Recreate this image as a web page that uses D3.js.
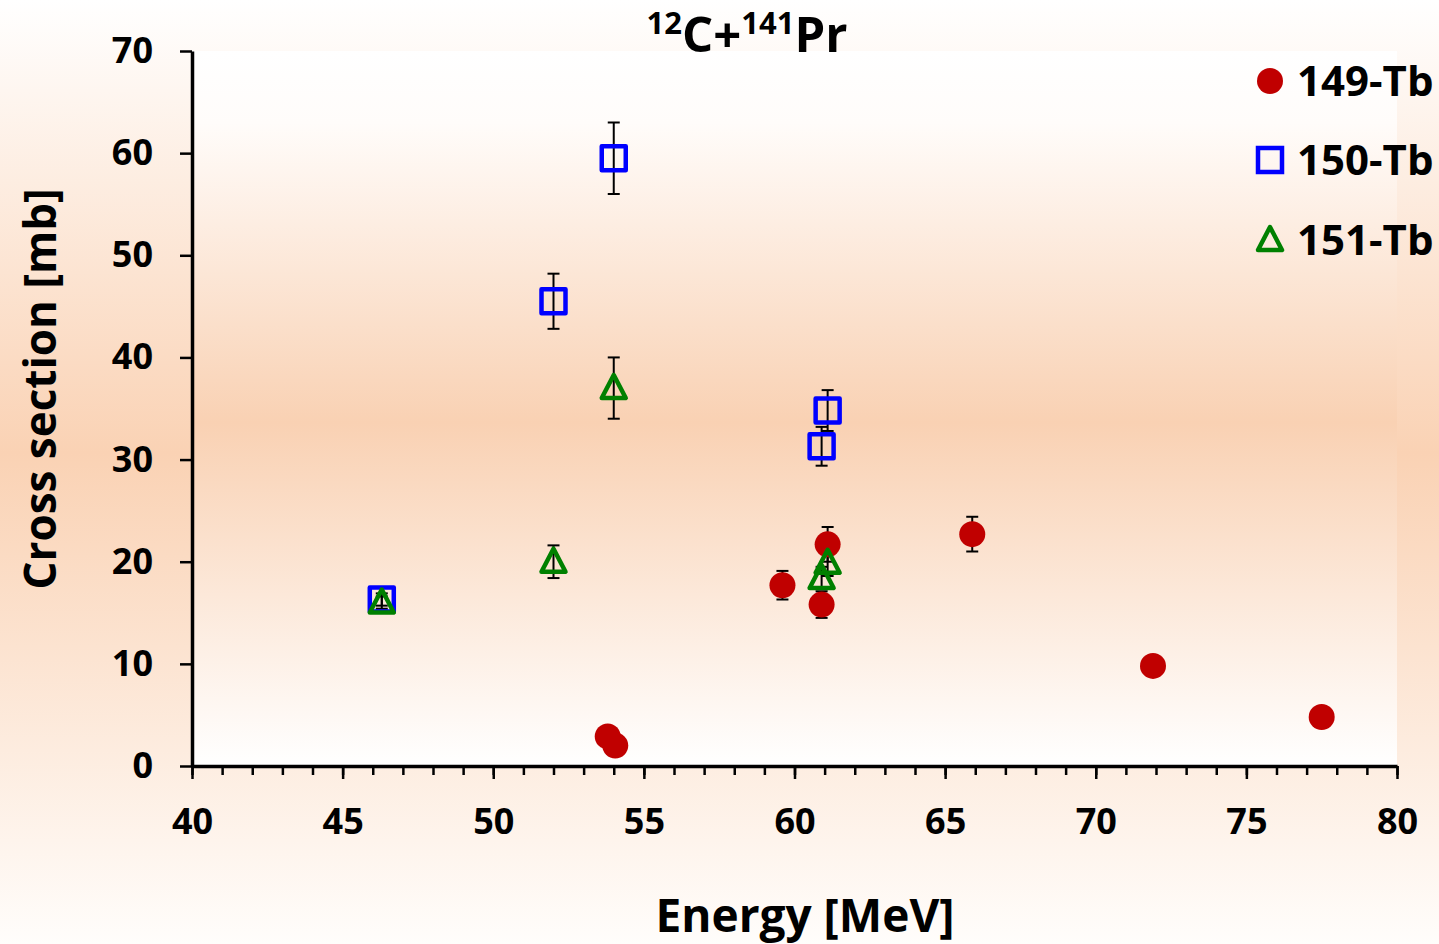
<!DOCTYPE html>
<html>
<head>
<meta charset="utf-8">
<script src="https://cdn.jsdelivr.net/npm/d3@7"></script>
<style>
	body { margin: 0; background: #fff; }
	text { font-family: "Open Sans", "Liberation Sans", sans-serif; font-weight: 700; fill: #000; }
</style>
</head>
<body>
<div id="chart"></div>
<script>
// data: energy [MeV], cross section [mb], error [mb]
var tb149 = [
	{e: 53.8, v: 2.9, err: 0},
	{e: 54.05, v: 2.0, err: 0},
	{e: 59.6, v: 17.7, err: 1.4},
	{e: 60.9, v: 15.8, err: 1.3},
	{e: 61.1, v: 21.7, err: 1.7},
	{e: 65.9, v: 22.7, err: 1.7},
	{e: 71.9, v: 9.8, err: 0},
	{e: 77.5, v: 4.8, err: 0}
];
var tb150 = [
	{e: 46.3, v: 16.3, err: 0.6},
	{e: 52.0, v: 45.5, err: 2.7},
	{e: 54.0, v: 59.5, err: 3.5},
	{e: 60.9, v: 31.3, err: 1.9},
	{e: 61.1, v: 34.8, err: 2.0}
];
var tb151 = [
	{e: 46.3, v: 16.0, err: 0.6},
	{e: 52.0, v: 20.0, err: 1.6},
	{e: 54.0, v: 37.0, err: 3.0},
	{e: 60.9, v: 18.4, err: 1.1},
	{e: 61.1, v: 19.9, err: 1.3}
];
var seriesNames = ["149-Tb", "150-Tb", "151-Tb"];
var xTicks = [40, 45, 50, 55, 60, 65, 70, 75, 80];
var yTicks = [0, 10, 20, 30, 40, 50, 60, 70];

var layout = {
	w: 1439,
	h: 944,
	left: 192,
	right: 1397,
	top: 51,
	bottom: 766
}

var svg = d3.select("#chart").append("svg")
			.attr("width", layout.w)
			.attr("height", layout.h);

var defs = svg.append("defs");

var gradOuter = defs.append("linearGradient")
			.attr("id", "gradOuter")
			.attr("x1", 0).attr("y1", 0).attr("x2", 0).attr("y2", 1);
gradOuter.append("stop").attr("offset", "0").attr("stop-color", "#ffffff");
gradOuter.append("stop").attr("offset", "0.48").attr("stop-color", "#fad2b4");
gradOuter.append("stop").attr("offset", "1").attr("stop-color", "#fffdfb");

var gradPlot = defs.append("linearGradient")
			.attr("id", "gradPlot")
			.attr("x1", 0).attr("y1", 0).attr("x2", 0).attr("y2", 1);
gradPlot.append("stop").attr("offset", "0").attr("stop-color", "#ffffff");
gradPlot.append("stop").attr("offset", "0.1").attr("stop-color", "#fffcfa");
gradPlot.append("stop").attr("offset", "0.52").attr("stop-color", "#f9d1b3");
gradPlot.append("stop").attr("offset", "1").attr("stop-color", "#ffffff");

svg.append("rect")
	.attr("width", layout.w).attr("height", layout.h)
	.style("fill", "url(#gradOuter)");

svg.append("rect")
	.attr("x", layout.left).attr("y", layout.top)
	.attr("width", layout.right - layout.left)
	.attr("height", layout.bottom - layout.top)
	.style("fill", "url(#gradPlot)");

var xScale = d3.scaleLinear().domain([40, 80]).range([layout.left, layout.right]),
	yScale = d3.scaleLinear().domain([0, 70]).range([layout.bottom, layout.top]);

// x axis: minor ticks every 1 MeV, major every 5
var xMinor = svg.append("g")
				.attr("transform", "translate(0," + layout.bottom + ")")
				.call(d3.axisBottom(xScale).ticks(40).tickSize(9).tickFormat(""));
xMinor.select(".domain").remove();
xMinor.selectAll("line").style("stroke", "#000").style("stroke-width", 2.5);

var xAxis = svg.append("g")
				.attr("transform", "translate(0," + layout.bottom + ")")
				.call(d3.axisBottom(xScale).tickValues(xTicks).tickSize(13).tickSizeOuter(0).tickPadding(29));
xAxis.select(".domain").style("stroke", "#000").style("stroke-width", 3.5);
xAxis.selectAll("line").style("stroke", "#000").style("stroke-width", 2.5);
xAxis.selectAll("text")
		.style("font-family", "'Open Sans', sans-serif")
		.style("font-weight", 700)
		.style("font-size", "36px")
		.attr("dy", "0.71em");

var yAxis = svg.append("g")
				.attr("transform", "translate(" + layout.left + ",0)")
				.call(d3.axisLeft(yScale).tickValues(yTicks).tickSize(12).tickSizeOuter(0).tickPadding(27));
yAxis.select(".domain").style("stroke", "#000").style("stroke-width", 3.5);
yAxis.selectAll("line").style("stroke", "#000").style("stroke-width", 2.5);
yAxis.selectAll("text")
		.style("font-family", "'Open Sans', sans-serif")
		.style("font-weight", 700)
		.style("font-size", "36px");

// titles
var title = svg.append("text")
				.attr("x", 747).attr("y", 52)
				.attr("text-anchor", "middle")
				.style("font-size", "49px");
title.append("tspan").text("12").style("font-size", "31px").attr("dy", "-18");
title.append("tspan").text("C+").attr("dy", "18");
title.append("tspan").text("141").style("font-size", "31px").attr("dy", "-18");
title.append("tspan").text("Pr").attr("dy", "18");

svg.append("text")
	.attr("x", 805).attr("y", 932)
	.attr("text-anchor", "middle")
	.style("font-size", "46px")
	.text("Energy [MeV]");

svg.append("text")
	.attr("transform", "translate(56,389) rotate(-90)")
	.attr("text-anchor", "middle")
	.style("font-size", "44px")
	.text("Cross section [mb]");

// error bars
var allPoints = tb149.concat(tb150, tb151).filter(function(d){ return d.err > 0; });
var errG = svg.append("g").attr("class", "errors");
allPoints.forEach(function(d){
	var x = xScale(d.e),
		y1 = yScale(d.v - d.err),
		y2 = yScale(d.v + d.err);
	errG.append("line").attr("x1", x).attr("x2", x).attr("y1", y1).attr("y2", y2);
	errG.append("line").attr("x1", x - 6).attr("x2", x + 6).attr("y1", y1).attr("y2", y1);
	errG.append("line").attr("x1", x - 6).attr("x2", x + 6).attr("y1", y2).attr("y2", y2);
});
errG.selectAll("line").style("stroke", "#000").style("stroke-width", 2);

// markers
var circleSym = d3.symbol().type(d3.symbolCircle).size(Math.PI * 13 * 13),
	squareSym = d3.symbol().type(d3.symbolSquare).size(24 * 24),
	triSym = function(){
		// triangle with the base at the bottom, ~26 wide
		return "M0,-13L12,10L-12,10Z";
	};

svg.append("g").selectAll("path")
	.data(tb149)
	.enter().append("path")
	.attr("transform", function(d){ return "translate(" + xScale(d.e) + "," + yScale(d.v) + ")"; })
	.attr("d", circleSym)
	.style("fill", "#c00000");

svg.append("g").selectAll("path")
	.data(tb150)
	.enter().append("path")
	.attr("transform", function(d){ return "translate(" + xScale(d.e) + "," + yScale(d.v) + ")"; })
	.attr("d", squareSym)
	.style("fill", "none")
	.style("stroke", "#0000ff")
	.style("stroke-width", 4.5)
	.style("stroke-linejoin", "round");

svg.append("g").selectAll("path")
	.data(tb151)
	.enter().append("path")
	.attr("transform", function(d){ return "translate(" + xScale(d.e) + "," + yScale(d.v) + ")"; })
	.attr("d", triSym)
	.style("fill", "none")
	.style("stroke", "#008000")
	.style("stroke-width", 4.5)
	.style("stroke-linejoin", "round");

// legend
var legend = svg.append("g").attr("class", "legend");
var legendY = [81, 160, 240];
seriesNames.forEach(function(name, i){
	var g = legend.append("g").attr("transform", "translate(1270," + legendY[i] + ")");
	if(i == 0){
		g.append("path").attr("d", circleSym).style("fill", "#c00000");
	}else if(i == 1){
		g.append("path").attr("d", squareSym)
			.style("fill", "none").style("stroke", "#0000ff").style("stroke-width", 4.5);
	}else{
		g.append("path").attr("d", triSym)
			.style("fill", "none").style("stroke", "#008000").style("stroke-width", 4.5)
			.style("stroke-linejoin", "round");
	}
	g.append("text")
		.attr("x", 27).attr("y", 15)
		.style("font-size", "42px")
		.text(name);
});
</script>
</body>
</html>
